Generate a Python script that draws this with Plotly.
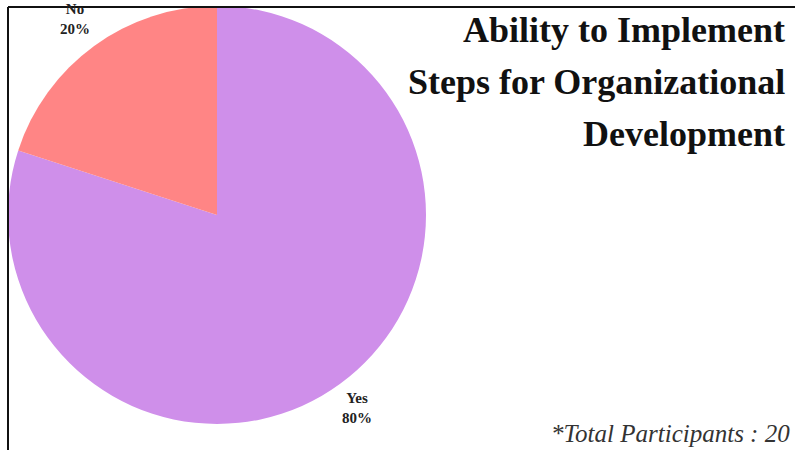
import plotly.graph_objects as go

labels = ["Yes", "No"]
values = [80, 20]
colors = ["#CF8FEA", "#FF8585"]
title_lines = ["Ability to Implement", "Steps for Organizational", "Development"]
footnote = "*Total Participants : 20"

W, H = 795, 450
SERIF = "Times New Roman, Liberation Serif, Tinos, serif"
fig = go.Figure(go.Pie(
    labels=labels, values=values, sort=False, direction="clockwise", rotation=0,
    marker=dict(colors=colors, line=dict(width=0)),
    textinfo="none", hoverinfo="label+percent",
    domain=dict(x=[8 / W, 426 / W], y=[(H - 424) / H, (H - 6) / H]),
    showlegend=False,
))

total = sum(values)
label_pos = {"No": (75, 19), "Yes": (357, 408)}
annotations = []
for lab, val in zip(labels, values):
    px, py = label_pos[lab]
    annotations.append(dict(
        x=px / W, y=1 - py / H, xref="paper", yref="paper",
        text=f"<b>{lab}<br>{round(100 * val / total)}%</b>", showarrow=False,
        font=dict(family=SERIF, size=15, color="#222"),
        xanchor="center", yanchor="middle", align="center",
    ))
title_y = [30, 82, 134]
for line, ty in zip(title_lines, title_y):
    annotations.append(dict(
        x=787 / W, y=1 - ty / H, xref="paper", yref="paper",
        text=f"<b>{line}</b>", showarrow=False,
        font=dict(family=SERIF, size=36, color="#111"),
        xanchor="right", yanchor="middle", align="right",
    ))
annotations.append(dict(
    x=792 / W, y=1 - 433 / H, xref="paper", yref="paper",
    text=f"<i>{footnote}</i>", showarrow=False,
    font=dict(family=SERIF, size=25, color="#333"),
    xanchor="right", yanchor="middle",
))

fig.update_layout(
    width=W, height=H, margin=dict(l=0, r=0, t=0, b=0),
    paper_bgcolor="white", plot_bgcolor="white",
    annotations=annotations,
    shapes=[
        dict(type="line", xref="paper", yref="paper", x0=8 / W, x1=1, y0=1 - 7 / H, y1=1 - 7 / H,
             line=dict(color="#111", width=2)),
        dict(type="line", xref="paper", yref="paper", x0=8 / W, x1=8 / W, y0=0, y1=1 - 7 / H,
             line=dict(color="#111", width=2)),
    ],
)
fig.write_html("out.html")
